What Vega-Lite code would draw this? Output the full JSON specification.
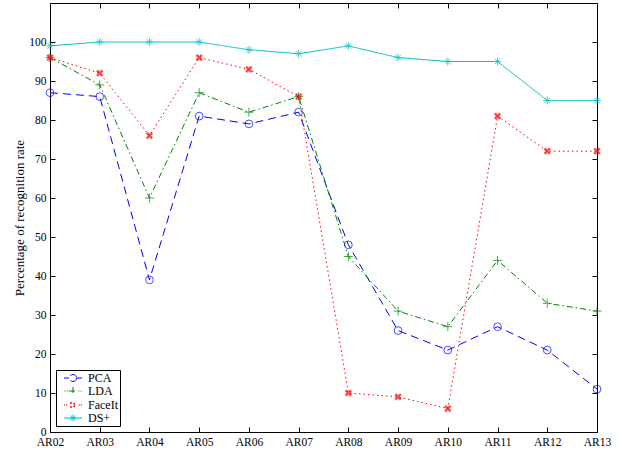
{
  "$schema": "https://vega.github.io/schema/vega-lite/v6.json",
  "width": 547,
  "height": 429,
  "autosize": "none",
  "padding": {"left": 50, "top": 3, "right": 25, "bottom": 22},
  "background": "white",
  "config": {
    "view": {"stroke": "#000", "strokeWidth": 1},
    "font": "Liberation Serif",
    "axis": {"grid": false, "domain": false, "tickColor": "#000", "tickSize": -5, "labelColor": "#000", "labelFont": "Liberation Serif", "labelFontSize": 11.5, "titleFont": "Liberation Serif", "titleColor": "#000", "titleFontWeight": "normal"}
  },
  "data": {"values": [
    {"set": "AR02", "method": "PCA", "value": 87}, {"set": "AR03", "method": "PCA", "value": 86}, {"set": "AR04", "method": "PCA", "value": 39}, {"set": "AR05", "method": "PCA", "value": 81}, {"set": "AR06", "method": "PCA", "value": 79}, {"set": "AR07", "method": "PCA", "value": 82}, {"set": "AR08", "method": "PCA", "value": 48}, {"set": "AR09", "method": "PCA", "value": 26}, {"set": "AR10", "method": "PCA", "value": 21}, {"set": "AR11", "method": "PCA", "value": 27}, {"set": "AR12", "method": "PCA", "value": 21}, {"set": "AR13", "method": "PCA", "value": 11},
    {"set": "AR02", "method": "LDA", "value": 96}, {"set": "AR03", "method": "LDA", "value": 89}, {"set": "AR04", "method": "LDA", "value": 60}, {"set": "AR05", "method": "LDA", "value": 87}, {"set": "AR06", "method": "LDA", "value": 82}, {"set": "AR07", "method": "LDA", "value": 86}, {"set": "AR08", "method": "LDA", "value": 45}, {"set": "AR09", "method": "LDA", "value": 31}, {"set": "AR10", "method": "LDA", "value": 27}, {"set": "AR11", "method": "LDA", "value": 44}, {"set": "AR12", "method": "LDA", "value": 33}, {"set": "AR13", "method": "LDA", "value": 31},
    {"set": "AR02", "method": "FaceIt", "value": 96}, {"set": "AR03", "method": "FaceIt", "value": 92}, {"set": "AR04", "method": "FaceIt", "value": 76}, {"set": "AR05", "method": "FaceIt", "value": 96}, {"set": "AR06", "method": "FaceIt", "value": 93}, {"set": "AR07", "method": "FaceIt", "value": 86}, {"set": "AR08", "method": "FaceIt", "value": 10}, {"set": "AR09", "method": "FaceIt", "value": 9}, {"set": "AR10", "method": "FaceIt", "value": 6}, {"set": "AR11", "method": "FaceIt", "value": 81}, {"set": "AR12", "method": "FaceIt", "value": 72}, {"set": "AR13", "method": "FaceIt", "value": 72},
    {"set": "AR02", "method": "DS+", "value": 99}, {"set": "AR03", "method": "DS+", "value": 100}, {"set": "AR04", "method": "DS+", "value": 100}, {"set": "AR05", "method": "DS+", "value": 100}, {"set": "AR06", "method": "DS+", "value": 98}, {"set": "AR07", "method": "DS+", "value": 97}, {"set": "AR08", "method": "DS+", "value": 99}, {"set": "AR09", "method": "DS+", "value": 96}, {"set": "AR10", "method": "DS+", "value": 95}, {"set": "AR11", "method": "DS+", "value": 95}, {"set": "AR12", "method": "DS+", "value": 85}, {"set": "AR13", "method": "DS+", "value": 85}
  ]},
  "resolve": {"axis": {"x": "independent", "y": "independent"}},
  "layer": [
    {
      "mark": {"type": "line", "strokeWidth": 1},
      "encoding": {
        "x": {"field": "set", "type": "ordinal", "scale": {"type": "point", "padding": 0}, "axis": {"orient": "bottom", "title": null, "labelAngle": 0, "labelPadding": 9}},
        "y": {"field": "value", "type": "quantitative", "scale": {"domain": [0, 110], "nice": false}, "axis": {"orient": "left", "values": [0, 10, 20, 30, 40, 50, 60, 70, 80, 90, 100], "title": "Percentage of recognition rate", "titleFontSize": 13, "labelPadding": 9, "titlePadding": 2}},
        "color": {"field": "method", "type": "nominal", "scale": {"domain": ["PCA", "LDA", "FaceIt", "DS+"], "range": ["#0000ff", "#008000", "#ff0000", "#00bfbf"]},
          "legend": {"orient": "bottom-left", "offset": 6, "title": null, "fillColor": "white", "strokeColor": "#000", "padding": 2, "labelFont": "Liberation Serif", "labelFontSize": 12, "labelColor": "#000", "symbolSize": 324, "labelOffset": 18, "rowPadding": 0,
            "encode": {"symbols": {"update": {
              "x": {"value": 15},
              "shape": {"signal": "datum.value === 'PCA' ? 'M-1,0H-0.45M0.45,0H1M0.39,0A0.39,0.39 0 1,1 -0.39,0A0.39,0.39 0 1,1 0.39,0Z' : datum.value === 'LDA' ? 'M-0.95,0H-0.85M-0.7,0H-0.6M0.6,0H0.7M0.85,0H0.95M-0.45,0H0.45M0,-0.45V0.45' : datum.value === 'FaceIt' ? 'M-0.95,0H-0.88M-0.72,0H-0.65M0.65,0H0.72M0.88,0H0.95M-0.28,-0.28L0.28,0.28M-0.28,0.28L0.28,-0.28' : 'M-1,0H1M-0.4,0H0.4M0,-0.4V0.4M-0.28,-0.28L0.28,0.28M-0.28,0.28L0.28,-0.28'"},
              "strokeDash": {"value": [1, 0]},
              "strokeWidth": {"signal": "datum.value === 'FaceIt' ? 2 : 1"},
              "fill": {"value": "transparent"}
            }}}}
        },
        "strokeDash": {"field": "method", "type": "nominal", "scale": {"domain": ["PCA", "LDA", "FaceIt", "DS+"], "range": [[8, 5], [6, 3, 1.5, 3], [1.5, 3], [1, 0]]}, "legend": null}
      }
    },
    {
      "transform": [{"filter": "datum.method === 'PCA'"}],
      "mark": {"type": "point", "filled": false, "shape": "circle", "size": 60, "strokeWidth": 1},
      "encoding": {
        "x": {"field": "set", "type": "ordinal", "axis": null},
        "y": {"field": "value", "type": "quantitative", "axis": null},
        "color": {"field": "method", "type": "nominal"}
      }
    },
    {
      "transform": [{"filter": "datum.method === 'LDA'"}],
      "mark": {"type": "point", "filled": false, "shape": "M-1,0H1M0,-1V1", "size": 81, "strokeWidth": 1},
      "encoding": {
        "x": {"field": "set", "type": "ordinal", "axis": null},
        "y": {"field": "value", "type": "quantitative", "axis": null},
        "color": {"field": "method", "type": "nominal"}
      }
    },
    {
      "transform": [{"filter": "datum.method === 'FaceIt'"}],
      "mark": {"type": "point", "filled": false, "shape": "M-1,-1L1,1M-1,1L1,-1", "size": 30, "strokeWidth": 2.5},
      "encoding": {
        "x": {"field": "set", "type": "ordinal", "axis": null},
        "y": {"field": "value", "type": "quantitative", "axis": null},
        "color": {"field": "method", "type": "nominal"}
      }
    },
    {
      "transform": [{"filter": "datum.method === 'DS+'"}],
      "mark": {"type": "point", "filled": false, "shape": "M-1,0H1M0,-1V1M-0.7,-0.7L0.7,0.7M-0.7,0.7L0.7,-0.7", "size": 64, "strokeWidth": 1},
      "encoding": {
        "x": {"field": "set", "type": "ordinal", "axis": null},
        "y": {"field": "value", "type": "quantitative", "axis": null},
        "color": {"field": "method", "type": "nominal"}
      }
    },
    {
      "mark": {"type": "point", "opacity": 0},
      "encoding": {
        "x": {"field": "set", "type": "ordinal", "axis": {"orient": "top", "labels": false, "title": null}},
        "y": {"field": "value", "type": "quantitative", "axis": {"orient": "right", "labels": false, "title": null, "values": [0, 10, 20, 30, 40, 50, 60, 70, 80, 90, 100]}}
      }
    }
  ]
}
